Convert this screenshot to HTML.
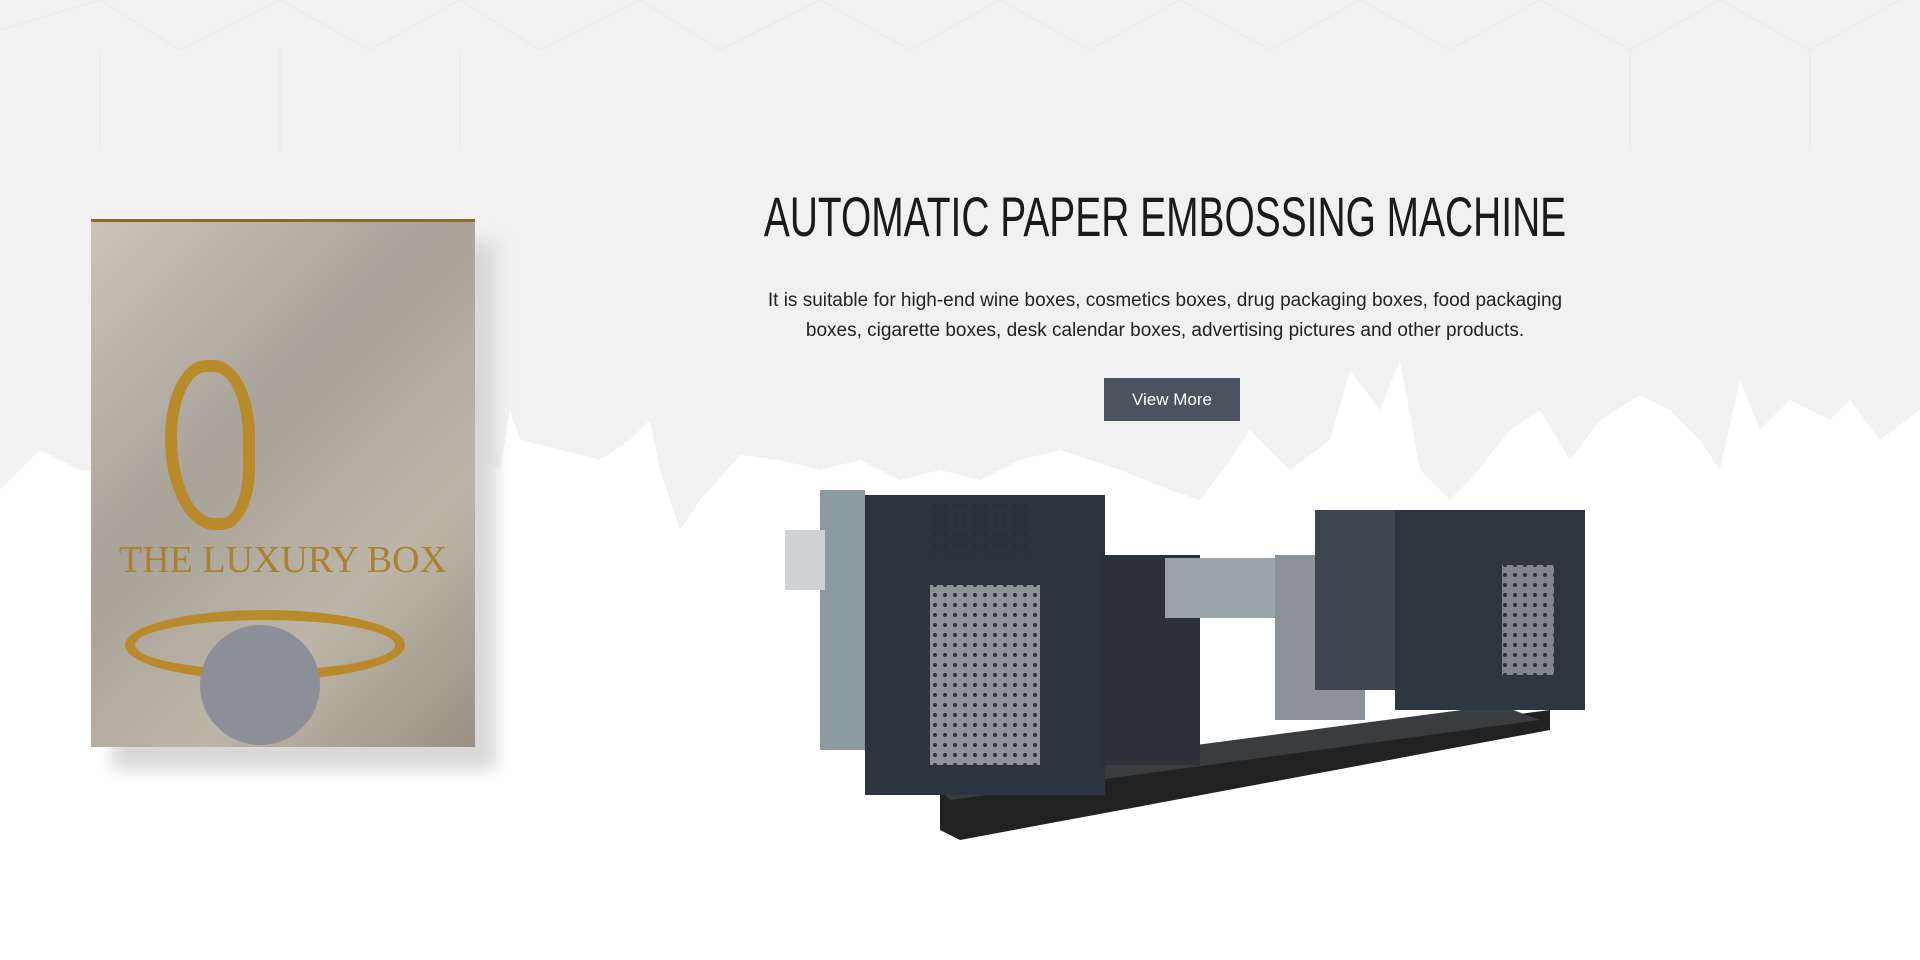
<!DOCTYPE html>
<html><head><meta charset="utf-8"><style>
html,body{margin:0;padding:0;width:1920px;height:960px;overflow:hidden;background:#fff;font-family:"Liberation Sans",sans-serif}
.abs{position:absolute}
</style></head><body>
<svg class="abs" style="left:0;top:0" width="1920" height="960">
<path fill="#f1f1f1" d="M0 0H1920V410L1880 440 1850 400 1830 420 1790 400 1760 430 1740 380 1720 470 1700 440 1670 410 1640 395 1600 420 1570 460 1540 410 1510 430 1470 480 1450 500 1420 470 1400 360 1380 410 1350 370 1330 440 1290 470 1250 430 1230 460 1200 500 1170 490 1120 470 1060 450 1020 460 980 480 940 470 900 480 860 460 820 470 780 460 740 455 700 500 680 530 660 470 650 420 630 440 600 460 560 450 520 440 510 410 500 470 470 450 440 470 400 480 360 470 320 470 280 480 240 470 200 480 160 470 120 475 80 470 40 450 20 470 0 490Z"/>
<g stroke="#ebebeb" fill="none" stroke-width="1.5">
<path d="M0 30L100 0M100 0L180 50 280 0M280 0L370 50 460 0M460 0L540 50 640 0M640 0L720 50 820 0M820 0L910 50 1000 0M1000 0L1090 50 1180 0M1180 0L1270 50 1360 0M1360 0L1450 50 1540 0M1540 0L1630 50 1720 0M1720 0L1810 50 1900 0M100 50V150M280 50V150M460 50V150M1630 50V150M1810 50V150"/>
</g>
</svg>
<div class="abs" style="left:112px;top:242px;width:384px;height:528px;background:#d8d8d8;filter:blur(8px)"></div>
<div class="abs" style="left:91px;top:219px;width:384px;height:528px;background:linear-gradient(135deg,#c9c3b8,#a8a298 40%,#bdb5a8 70%,#9a9183);border-top:3px solid #8a6a2a;box-sizing:border-box"></div>
<div class="abs" style="left:165px;top:360px;width:90px;height:170px;border:12px solid #b88a2a;border-radius:50% 50% 40% 60%;box-sizing:border-box"></div>
<div class="abs" style="left:91px;top:538px;width:384px;text-align:center;font-family:'Liberation Serif',serif;font-size:38px;color:#a8822e">THE LUXURY BOX</div>
<div class="abs" style="left:125px;top:610px;width:280px;height:70px;border:10px solid #b88a2a;border-radius:50%;box-sizing:border-box"></div>
<div class="abs" style="left:200px;top:625px;width:120px;height:120px;background:#8c8f98;border-radius:50%"></div>
<div class="abs" style="left:565px;top:182px;width:1200px;text-align:center;white-space:nowrap;font-size:56px;line-height:70px;color:#1a1a1a;transform:scaleX(0.695);transform-origin:center">AUTOMATIC PAPER EMBOSSING MACHINE</div>
<div class="abs" style="left:765px;top:286px;width:800px;text-align:center;font-size:19px;line-height:30px;color:#222">It is suitable for high-end wine boxes, cosmetics boxes, drug packaging boxes, food packaging boxes, cigarette boxes, desk calendar boxes, advertising pictures and other products.</div>
<div class="abs" style="left:1104px;top:378px;width:136px;height:43px;background:#4a535e;color:#fff;font-size:17px;line-height:43px;text-align:center">View More</div>
<svg class="abs" style="left:780px;top:480px" width="830" height="380">
<defs><pattern id="d" width="10" height="10" patternUnits="userSpaceOnUse"><circle cx="5" cy="5" r="2" fill="#2a3038"/></pattern></defs>
<polygon points="160,310 770,230 770,250 180,360 160,350" fill="#222"/>
<polygon points="150,300 720,225 760,240 170,320" fill="#3a3d40"/>
<rect x="40" y="10" width="45" height="260" fill="#8a9aa0"/>
<rect x="85" y="15" width="240" height="300" fill="#2c3440"/>
<rect x="150" y="20" width="100" height="55" fill="url(#d)"/>
<rect x="150" y="105" width="110" height="180" fill="#8c9498"/>
<rect x="150" y="105" width="110" height="180" fill="url(#d)"/>
<rect x="320" y="75" width="100" height="210" fill="#2b323b"/>
<rect x="385" y="78" width="110" height="60" fill="#9aa4aa"/>
<rect x="495" y="75" width="90" height="165" fill="#8b9396"/>
<rect x="535" y="30" width="80" height="180" fill="#3d4650"/>
<rect x="615" y="30" width="190" height="200" fill="#2e3640"/>
<rect x="722" y="85" width="52" height="110" fill="#7f878c"/>
<rect x="722" y="85" width="52" height="110" fill="url(#d)"/>
<rect x="5" y="50" width="40" height="60" fill="#cfd3d6"/>
</svg>
</body></html>
